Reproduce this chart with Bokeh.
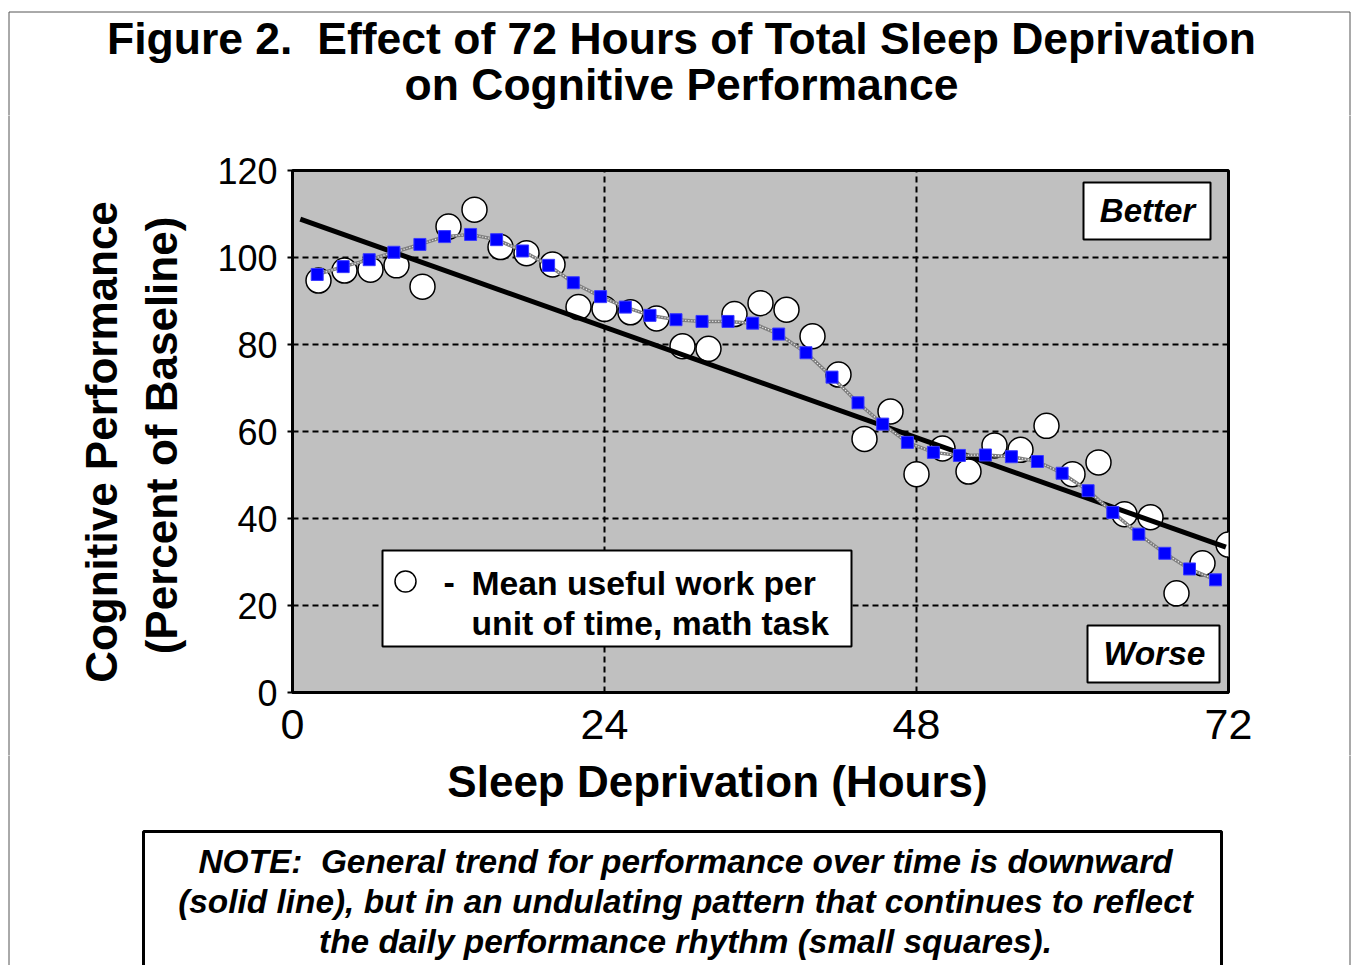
from bokeh.plotting import figure
from bokeh.layouts import column, row
from bokeh.models import Label, BoxAnnotation, FixedTicker, Range1d
from bokeh.embed import file_html
from bokeh.resources import INLINE

# ---------------- data ----------------
obs_hours = [2, 4, 6, 8, 10, 12, 14, 16, 18, 20, 22, 24, 26, 28, 30, 32, 34, 36,
             38, 40, 42, 44, 46, 48, 50, 52, 54, 56, 58, 60, 62, 64, 66, 68, 70, 72]
obs_perf = [94.7, 97.0, 97.2, 98.2, 93.3, 107.1, 111.0, 102.4, 101.0, 98.4, 88.6, 88.2,
            87.4, 86.0, 79.6, 79.0, 87.0, 89.5, 88.0, 81.9, 73.1, 58.3, 64.6, 50.2,
            56.1, 50.8, 56.8, 55.8, 61.3, 50.2, 52.9, 41.0, 40.3, 22.8, 29.7, 34.0]

rhythm_hours = [1.9, 3.9, 5.9, 7.8, 9.8, 11.7, 13.7, 15.7, 17.7, 19.7, 21.6, 23.7,
                25.6, 27.5, 29.5, 31.5, 33.5, 35.4, 37.4, 39.5, 41.5, 43.5, 45.4, 47.3,
                49.3, 51.3, 53.3, 55.3, 57.3, 59.2, 61.2, 63.1, 65.1, 67.1, 69.0, 71.0]
rhythm_perf = [96.1, 97.9, 99.5, 101.2, 103.0, 104.8, 105.3, 104.1, 101.5, 98.2, 94.2, 91.0,
               88.6, 86.7, 85.7, 85.3, 85.3, 84.9, 82.4, 78.1, 72.5, 66.6, 61.7, 57.5,
               55.2, 54.5, 54.6, 54.2, 53.1, 50.4, 46.4, 41.4, 36.4, 32.0, 28.4, 25.9]

trend_hours = [0.6, 71.8]
trend_perf = [108.8, 33.4]

x_ticks = [0, 24, 48, 72]
y_ticks = [0, 20, 40, 60, 80, 100, 120]

title_lines = ["Figure 2.\u00a0 Effect of 72 Hours of Total Sleep Deprivation",
               "on Cognitive Performance"]
y_label_lines = ["Cognitive Performance", "(Percent of Baseline)"]
x_label = "Sleep Deprivation (Hours)"
legend_lines = ["Mean useful work per", "unit of time, math task"]
note_lines = ["NOTE:\u00a0 General trend for performance over time is downward",
              "(solid line), but in an undulating pattern that continues to reflect",
              "the daily performance rhythm (small squares)."]

# ---------------- page geometry (page px) ----------------
PW, PH = 1351, 965
TOP = 115          # bottom of title strip
LEFT = 200         # width of y-label strip
BOT = 755          # top of bottom strip
RSTRIP = 3         # thin strip on the right carrying the page border
FRAME_L, FRAME_T, FRAME_R, FRAME_B = 292, 170, 1228, 692
FONT = "Liberation Sans"
BASE_SHIFT = 0.35  # alphabetic-baseline correction (em)
EDGE = "#555555"


def blank(x0, y0, w, h):
    f = figure(width=w, height=h, title=None,
               x_range=Range1d(x0, x0 + w), y_range=Range1d(-(y0 + h), -y0),
               output_backend="svg", toolbar_location=None,
               x_axis_location=None, y_axis_location=None,
               min_border=0, min_border_left=0, min_border_right=0,
               min_border_top=0, min_border_bottom=0)
    f.frame_align = False
    f.grid.visible = False
    f.outline_line_color = None
    f.background_fill_color = "white"
    f.border_fill_color = "white"
    return f


def ty(py):
    return -py


def label(f, x, py, text, size, style="bold", align="center", angle=0):
    sh = BASE_SHIFT * size
    y = ty(py)
    if angle == 0:
        y = y + sh
    else:
        x = x - sh
    f.add_layout(Label(x=x, y=y, text=text, text_font=FONT, text_font_style=style,
                       text_font_size=f"{size}px", text_color="black",
                       text_align=align, text_baseline="alphabetic",
                       angle=angle, angle_units="deg"))


def box(f, l, t, r, b, lw=2, fill="white", color="black"):
    f.add_layout(BoxAnnotation(left=l, right=r, top=ty(t), bottom=ty(b),
                               fill_color=fill if fill else "white",
                               fill_alpha=1.0 if fill else 0.0,
                               line_color=color, line_alpha=1.0, line_width=lw))


# ---------------- title strip ----------------
tfig = blank(0, 0, PW, TOP)
box(tfig, 8.5, 11.5, 1349.5, 400, lw=1, fill=None, color=EDGE)
label(tfig, 681, 54, title_lines[0], 44.5)
label(tfig, 681, 100, title_lines[1], 44.5)

# ---------------- y-label strip ----------------
lfig = blank(0, TOP, LEFT, BOT - TOP)
box(lfig, 8.5, 0, 400, 2000, lw=1, fill=None, color=EDGE)
label(lfig, 116, 441.5, y_label_lines[0], 44, angle=90)
label(lfig, 176, 435, y_label_lines[1], 44, angle=90)

# ---------------- right border strip ----------------
rfig = blank(PW - RSTRIP, TOP, RSTRIP, BOT - TOP)
box(rfig, 0, 0, 1349.5, 2000, lw=1, fill=None, color=EDGE)

# ---------------- main chart ----------------
MW, MH = PW - LEFT - RSTRIP, BOT - TOP
FW, FH = FRAME_R - FRAME_L, FRAME_B - FRAME_T
p = figure(width=MW, height=MH, title=None,
           x_range=Range1d(0, 72), y_range=Range1d(0, 120),
           output_backend="svg", toolbar_location=None,
           min_border_left=FRAME_L - LEFT, min_border_right=PW - RSTRIP - FRAME_R,
           min_border_top=FRAME_T - TOP, min_border_bottom=BOT - FRAME_B)
p.frame_align = False


def X(px):
    return (px - FRAME_L) * 72.0 / FW


def Y(py):
    return (FRAME_B - py) * 120.0 / FH


p.background_fill_color = "#c0c0c0"
p.border_fill_color = "white"
p.outline_line_color = "black"
p.outline_line_width = 3

for ax in (p.xaxis[0], p.yaxis[0]):
    ax.axis_line_color = "black"
    ax.axis_line_width = 3
    ax.minor_tick_line_color = None
    ax.major_label_text_font = FONT
    ax.major_label_text_color = "black"
    ax.major_label_text_font_style = "normal"

p.xaxis.ticker = FixedTicker(ticks=x_ticks)
p.xaxis.major_tick_line_color = None
p.xaxis.major_label_text_font_size = "43px"
p.xaxis.major_label_standoff = 11

p.yaxis.ticker = FixedTicker(ticks=y_ticks)
p.yaxis.major_tick_out = 5
p.yaxis.major_tick_in = 0
p.yaxis.major_tick_line_width = 2
p.yaxis.major_tick_line_color = "black"
p.yaxis.major_label_text_font_size = "36px"
p.yaxis.major_label_standoff = 10

p.xgrid.ticker = FixedTicker(ticks=[24, 48])
p.ygrid.ticker = FixedTicker(ticks=[20, 40, 60, 80, 100])
for g in (p.xgrid[0], p.ygrid[0]):
    g.grid_line_color = "black"
    g.grid_line_width = 2
    g.grid_line_dash = "6 4"

p.scatter(obs_hours, obs_perf, marker="circle", size=25, fill_color="white",
          line_color="black", line_width=1.5)
p.line(trend_hours, trend_perf, line_color="black", line_width=5)
p.line(rhythm_hours, rhythm_perf, line_color="#808080", line_width=3.5)
p.line(rhythm_hours, rhythm_perf, line_color="white", line_width=1.2, line_dash="1 2")
p.scatter(rhythm_hours, rhythm_perf, marker="square", size=12, fill_color="#0000ff",
          line_color="#3a3aff", line_width=1)


def plabel(px, py, text, size, style="bold", align="center"):
    yb = py - BASE_SHIFT * size
    p.add_layout(Label(x=X(px), y=Y(yb), text=text, text_font=FONT,
                       text_font_style=style, text_font_size=f"{size}px",
                       text_color="black", text_align=align,
                       text_baseline="alphabetic"))


def pbox(l, t, r, b):
    p.add_layout(BoxAnnotation(left=X(l), right=X(r), top=Y(t), bottom=Y(b),
                               fill_color="white", fill_alpha=1.0,
                               line_color="black", line_alpha=1.0, line_width=2))


pbox(1083, 182, 1210, 239)
plabel(1147, 222, "Better", 33, style="bold italic")
pbox(1087, 625, 1219, 682)
plabel(1154, 665, "Worse", 33.5, style="bold italic")

pbox(382, 550, 851, 646)
p.scatter([X(405)], [Y(581)], marker="circle", size=21, fill_color="white",
          line_color="black", line_width=1.5, level="overlay")
plabel(443, 594, "-", 34, align="left")
plabel(471, 594, legend_lines[0], 33.7, align="left")
plabel(471, 634, legend_lines[1], 33.7, align="left")

# ---------------- bottom strip ----------------
bfig = blank(0, BOT, PW, PH - BOT)
box(bfig, 8.5, 0, 1349.5, 2000, lw=1, fill=None, color=EDGE)
label(bfig, 717, 796, x_label, 44)
box(bfig, 143, 831, 1221, 1100, lw=3)
label(bfig, 685, 873, note_lines[0], 33.4, style="bold italic")
label(bfig, 685, 913, note_lines[1], 33.4, style="bold italic")
label(bfig, 685, 953, note_lines[2], 33.4, style="bold italic")

layout = column(tfig, row(lfig, p, rfig), bfig)
open("out.html", "w").write(file_html(layout, INLINE))
